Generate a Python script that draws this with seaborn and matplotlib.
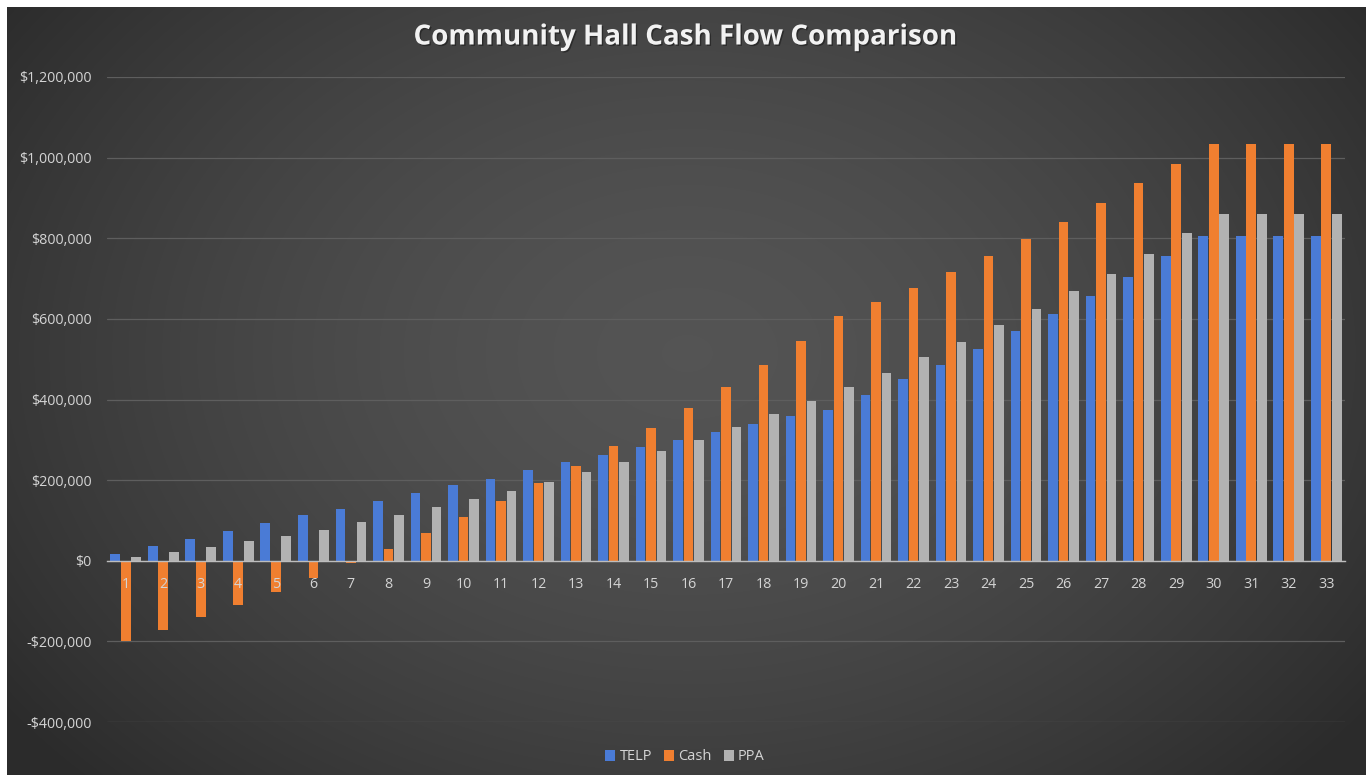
import numpy as np
import pandas as pd
import matplotlib
matplotlib.use("Agg")
import matplotlib.pyplot as plt
import seaborn as sns
from matplotlib.patches import Patch
from matplotlib.ticker import FuncFormatter, MultipleLocator
import matplotlib.patheffects as pe

# ---- data (cumulative cash flow, thousands of dollars) ----
years = list(range(1, 34))
telp = [17, 37, 53, 73, 93, 113, 128, 149, 168, 189, 204, 224, 244, 263, 283, 300,
        319, 338, 358, 374, 410, 451, 486, 526, 570, 613, 657, 705, 756, 805, 805, 805, 805]
cash = [-200, -172, -140, -110, -78, -43, -6, 29, 69, 109, 149, 193, 236, 284, 329, 379,
        430, 486, 546, 606, 642, 677, 716, 756, 797, 840, 888, 936, 984, 1035, 1035, 1035, 1035]
ppa = [10, 22, 34, 49, 61, 77, 97, 113, 133, 153, 172, 196, 219, 244, 272, 300,
       331, 363, 396, 430, 466, 505, 542, 585, 625, 669, 712, 760, 812, 860, 860, 860, 860]
series_names = ["TELP", "Cash", "PPA"]
series_colors = ["#4a7bd6", "#f07f30", "#b2b2b2"]
title = "Community Hall Cash Flow Comparison"

df = pd.DataFrame({
    "Year": years * 3,
    "Value": [v * 1000 for v in telp + cash + ppa],
    "Series": [s for s in series_names for _ in years],
})

sns.set_theme(style="dark")
plt.rcParams["font.family"] = ["Open Sans", "DejaVu Sans"]

W, H = 1370, 775
fig = plt.figure(figsize=(W / 100, H / 100), dpi=100, facecolor="white")

# radial dark-grey backdrop, with a thin white margin on the top, left and right
bg = fig.add_axes([7 / W, 0, 1 - 11 / W, 1 - 7 / H], zorder=0)
ny, nx = 400, 700
yy, xx = np.mgrid[0:ny, 0:nx]
r = np.sqrt(((xx - nx * 0.5) / (nx * 0.62)) ** 2 + ((yy - ny * 0.45) / (ny * 0.8)) ** 2)
r = np.clip(r, 0, 1)
c_in, c_out = np.array([0.33, 0.33, 0.33]), np.array([0.17, 0.17, 0.17])
img = c_in[None, None, :] + (c_out - c_in)[None, None, :] * (r[..., None] ** 1.6)
bg.imshow(img, aspect="auto", extent=[0, 1, 0, 1], interpolation="bilinear")
bg.set_axis_off()

ax = fig.add_axes([107 / W, 1 - 722 / H, (1345 - 107) / W, (722 - 77) / H], zorder=1)
ax.set_facecolor("none")

sns.barplot(data=df, x="Year", y="Value", hue="Series", hue_order=series_names,
            palette=series_colors, width=0.84, gap=0.08, saturation=1,
            linewidth=0, edgecolor="none", ax=ax, legend=False, zorder=3)

ax.set_ylim(-400000, 1200000)
ax.set_xlim(-0.5, len(years) - 0.5)
ax.yaxis.set_major_locator(MultipleLocator(200000))


def money(v, _pos):
    return f"-${abs(v):,.0f}" if v < 0 else f"${v:,.0f}"


ax.yaxis.set_major_formatter(FuncFormatter(money))
ax.grid(axis="y", color="#5e5e5e", linewidth=0.9, zorder=0)
ax.grid(axis="x", visible=False)
for side in ["left", "right", "top"]:
    ax.spines[side].set_visible(False)
ax.spines["bottom"].set_position(("data", 0))
ax.spines["bottom"].set_color("#bdbdbd")
ax.spines["bottom"].set_linewidth(1.0)
ax.spines["bottom"].set_zorder(4)

ax.tick_params(axis="y", length=0, pad=11, labelsize=10.3, labelcolor="#d4d4d4")
ax.tick_params(axis="x", length=0, labelbottom=False)
ax.set_xlabel("")
ax.set_ylabel("")

# year labels sit just under the zero line, drawn over the negative bars
for i, yr in enumerate(years):
    ax.annotate(str(yr), xy=(i, 0), xytext=(0, -17), textcoords="offset points",
                ha="center", va="center", fontsize=10.3, color="#d4d4d4", zorder=6)

fig.text(0.5, 1 - 37 / H, title, ha="center", va="center", fontsize=20,
         fontweight="bold", color="#f2f2f2",
         path_effects=[pe.withSimplePatchShadow(offset=(1, -1), shadow_rgbFace="#1a1a1a", alpha=0.6)])

handles = [Patch(facecolor=c, edgecolor="none") for c in series_colors]
fig.legend(handles, series_names, loc="center", bbox_to_anchor=(0.5, 1 - 757 / H),
           ncol=3, frameon=False, fontsize=10.5, labelcolor="#d4d4d4",
           handlelength=0.7, handleheight=0.7, handletextpad=0.3, columnspacing=0.8)

fig.savefig("out.png", dpi=100, facecolor="white")
